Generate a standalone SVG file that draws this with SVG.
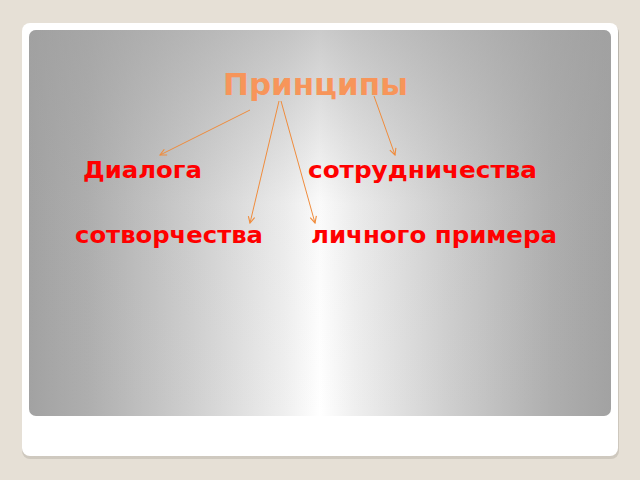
<svg xmlns="http://www.w3.org/2000/svg" width="640" height="480" viewBox="0 0 640 480">
<defs>
<linearGradient id="hg" x1="29" y1="0" x2="611" y2="0" gradientUnits="userSpaceOnUse">
<stop offset="0" stop-color="#a2a2a2"/>
<stop offset="0.1" stop-color="#aeaeae"/>
<stop offset="0.28" stop-color="#cfcfcf"/>
<stop offset="0.44" stop-color="#efefef"/>
<stop offset="0.5" stop-color="#ffffff"/>
<stop offset="0.56" stop-color="#efefef"/>
<stop offset="0.72" stop-color="#cfcfcf"/>
<stop offset="0.9" stop-color="#aeaeae"/>
<stop offset="1" stop-color="#a2a2a2"/>
</linearGradient>
<linearGradient id="vg" x1="0" y1="30" x2="0" y2="416" gradientUnits="userSpaceOnUse">
<stop offset="0" stop-color="#a0a0a0" stop-opacity="0.55"/>
<stop offset="0.45" stop-color="#a0a0a0" stop-opacity="0.05"/>
<stop offset="1" stop-color="#a0a0a0" stop-opacity="0"/>
</linearGradient>
<linearGradient id="sh" x1="0" y1="0" x2="0" y2="1">
<stop offset="0" stop-color="#b8b4ac"/>
<stop offset="1" stop-color="#cfc9bf"/>
</linearGradient>
<marker id="ah" viewBox="0 0 10 10" refX="9" refY="5" markerWidth="8" markerHeight="8" orient="auto" markerUnits="userSpaceOnUse">
<path d="M1,1 L9,5 L1,9" fill="none" stroke="#f08c3c" stroke-width="1.4"/>
</marker>
</defs>
<style>
.lbl{font-family:"DejaVu Sans",sans-serif;font-weight:bold;font-size:23.5px;fill:#ff0000}
.ttl{font-family:"DejaVu Sans",sans-serif;font-weight:bold;font-size:31px;fill:#f7955a}
.con{stroke:#f08c3c;stroke-width:1;fill:none;marker-end:url(#ah)}
</style>
<rect width="640" height="480" fill="#e6e0d6"/>
<rect x="22" y="25" width="597" height="434" rx="8" fill="url(#sh)"/>
<rect x="22" y="23" width="596" height="433" rx="8" fill="#ffffff"/>
<rect x="29" y="30" width="582" height="386" rx="7" fill="url(#hg)"/>
<rect x="29" y="30" width="582" height="386" rx="7" fill="url(#vg)"/>
<g id="title"><text class="ttl" x="223" y="95" textLength="185" lengthAdjust="spacingAndGlyphs">Принципы</text></g>
<g id="n-dialoga"><text class="lbl" x="83" y="178" textLength="119" lengthAdjust="spacingAndGlyphs">Диалога</text></g>
<g id="n-sotrud"><text class="lbl" x="308" y="178" textLength="229" lengthAdjust="spacingAndGlyphs">сотрудничества</text></g>
<g id="n-sotvor"><text class="lbl" x="75" y="243" textLength="188" lengthAdjust="spacingAndGlyphs">сотворчества</text></g>
<g id="n-lichn"><text class="lbl" x="311" y="243" textLength="246" lengthAdjust="spacingAndGlyphs">личного примера</text></g>
<g id="connectors">
<line class="con" x1="250" y1="110" x2="160" y2="155"/>
<line class="con" x1="279" y1="101" x2="250" y2="223"/>
<line class="con" x1="281" y1="101" x2="315" y2="223"/>
<line class="con" x1="374" y1="96" x2="395" y2="155"/>
</g>
</svg>
